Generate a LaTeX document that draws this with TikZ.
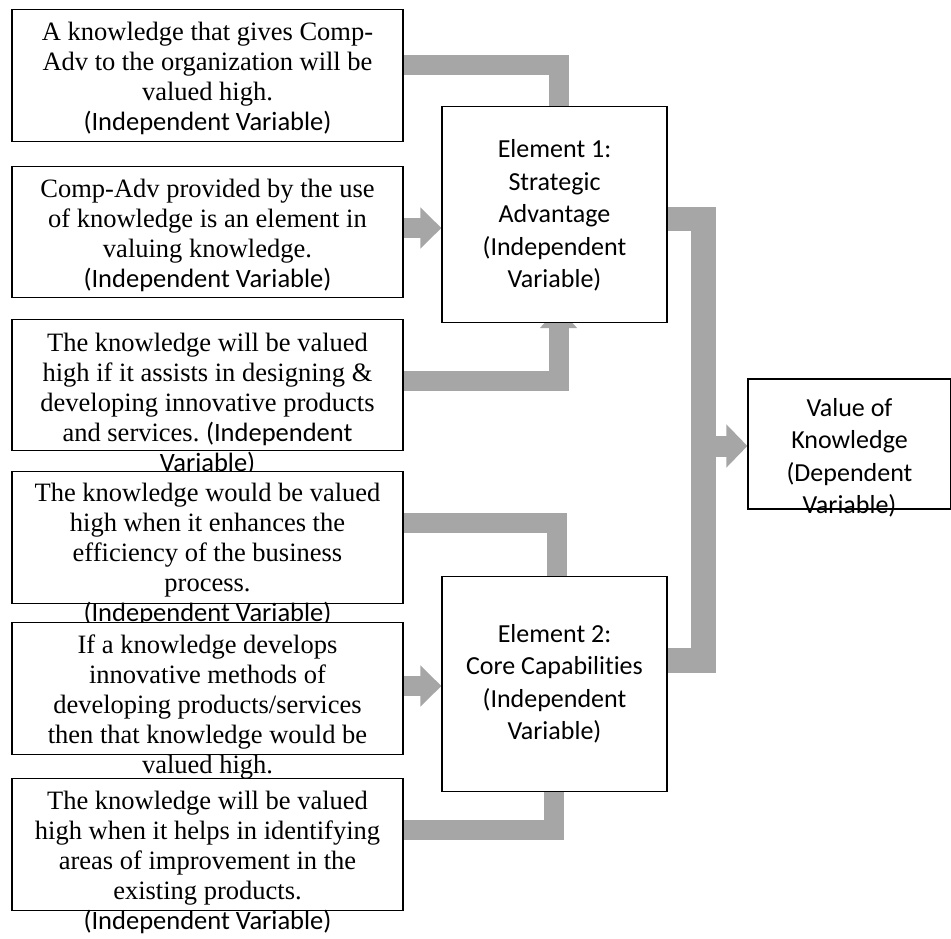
\documentclass[tikz,border=0pt]{standalone}
\usepackage{fontspec}
\setmainfont{Liberation Serif}
\newfontfamily\carlito[Ligatures=NoCommon]{Carlito}
\usetikzlibrary{arrows.meta,positioning,backgrounds}
\definecolor{bargray}{RGB}{166,166,166}
\frenchspacing
\tikzset{
    causebox/.style={draw, fill=white, line width=1.2pt, minimum width=391pt, minimum height=131.5pt, inner sep=0pt},
    elembox/.style={draw, fill=white, line width=1.2pt, minimum width=225pt, minimum height=215.5pt, inner sep=0pt},
    valbox/.style={draw, fill=white, line width=1.2pt, minimum width=203pt, minimum height=130pt, inner sep=0pt},
    causetext/.style={align=center, inner sep=0pt, font={\fontsize{26.5pt}{30pt}\selectfont}},
    elemtext/.style={align=center, inner sep=0pt, font={\carlito\fontsize{26pt}{32.5pt}\selectfont}},
    elbow/.style={draw=bargray, line width=20pt},
    block/.style={draw=bargray, line width=20pt, -{Triangle[width=40pt,length=21pt]}}
}
\begin{document}
\begin{tikzpicture}[x=1pt, y=-1pt]
    \useasboundingbox (0,0) rectangle (951,939);
    % left column
    \node[causebox] (b1) at (207.5,75.5) {};
    \node[causetext, below=13pt of b1.north] (t1) {A knowledge that gives Comp-\\Adv to the organization will be\\valued high.\\{\carlito (Independent Variable)}};
    \node[causebox] (b2) at (207.5,232) {};
    \node[causetext, below=13pt of b2.north] (t2) {Comp-Adv provided by the use\\of knowledge is an element in\\valuing knowledge.\\{\carlito (Independent Variable)}};
    \node[causebox] (b3) at (207.5,385) {};
    \node[causetext, below=14pt of b3.north] (t3) {The knowledge will be valued\\high if it assists in designing \&\\developing innovative products\\and services. {\carlito (Independent}\\{\carlito Variable)}};
    \node[causebox] (b4) at (207.5,537.5) {};
    \node[causetext, below=12pt of b4.north] (t4) {The knowledge would be valued\\high when it enhances the\\efficiency of the business\\process.\\{\carlito (Independent Variable)}};
    \node[causebox] (b5) at (207.5,688.5) {};
    \node[causetext, below=12pt of b5.north] (t5) {If a knowledge develops\\innovative methods of\\developing products/services\\then that knowledge would be\\valued high.};
    \node[causebox] (b6) at (207.5,844.5) {};
    \node[causetext, below=13pt of b6.north] (t6) {The knowledge will be valued\\high when it helps in identifying\\areas of improvement in the\\existing products.\\{\carlito (Independent Variable)}};
    % elements and result
    \node[elembox] (el1) at (554.5,214.5) {};
    \node[elemtext] (e1t) at ([yshift=-1pt]el1) {Element 1:\\Strategic\\Advantage\\(Independent\\Variable)};
    \node[elembox] (el2) at (554.5,684) {};
    \node[elemtext] (e2t) at (el2) {Element 2:\\Core Capabilities\\(Independent\\Variable)};
    \node[valbox] (val) at (849.5,444) {};
    \node[elemtext, below=19.5pt of val.north] (vt) {Value of\\Knowledge\\(Dependent\\Variable)};
    \coordinate (join) at (703.5,446);
    \coordinate (tip3) at (558.5,308);
    \begin{scope}[on background layer]
        \draw[elbow] (b1.east |- 0,65.5) -| (el1.north -| 558.5,0);
        \draw[block] (b2.east |- 0,228) -- (el1.west |- 0,228);
        \draw[elbow, -{Triangle[width=36pt,length=20pt]}] (b3.east |- 0,380.5) -| (tip3);
        \draw[elbow] (b4.east |- 0,523) -| (el2.north -| 556.5,0);
        \draw[block] (b5.east |- 0,686) -- (el2.west |- 0,686);
        \draw[elbow] (b6.east |- 0,830) -| (el2.south -| 553.5,0);
        \draw[draw=bargray, line width=24.5pt] (el1.east |- 0,219) -| (join |- 0,660.5) -- (el2.east |- 0,660.5);
        \draw[block, line width=21pt, -{Triangle[width=42pt,length=21pt]}] (join) -- (join -| val.west);
    \end{scope}
\end{tikzpicture}
\end{document}
